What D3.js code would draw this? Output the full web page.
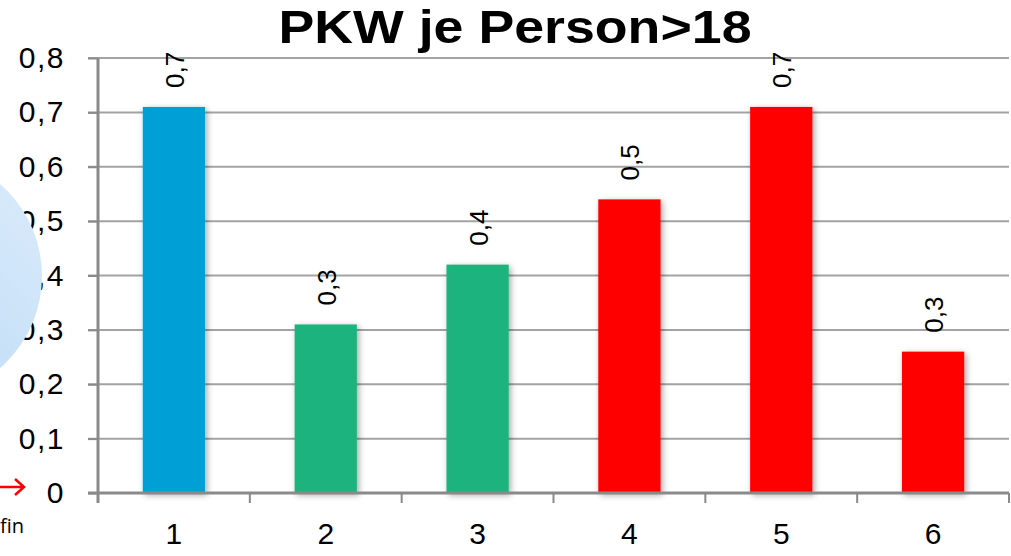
<!DOCTYPE html>
<html>
<head>
<meta charset="utf-8">
<script src="https://cdn.jsdelivr.net/npm/d3@7/dist/d3.min.js"></script>
<style>
body { margin: 0; background: #fff; }
svg { display: block; font-family: "Liberation Sans", Arial, sans-serif; }
</style>
</head>
<body>
<div class="chart"></div>
<script>
// chart data
var categories = ["1", "2", "3", "4", "5", "6"];
var values = [0.71, 0.31, 0.42, 0.54, 0.71, 0.26];
var barColors = ["#009fd6", "#1fb37f", "#1fb37f", "#ff0000", "#ff0000", "#ff0000"];
var yTicks = [0, 0.1, 0.2, 0.3, 0.4, 0.5, 0.6, 0.7, 0.8];
var title = "PKW je Person>18";

var svg_w = 1011;
var svg_h = 556;
var svg = d3.select("div.chart").append("svg")
.attr("width", svg_w)
.attr("height", svg_h);

var plotLeft = 98, plotRight = 1009, plotTop = 58, plotBottom = 493;

var x = d3.scaleBand()
.domain(categories)
.range([plotLeft, plotRight])
.padding(0);

var y = d3.scaleLinear()
.domain([0, 0.8])
.range([plotBottom, plotTop]);

var comma = function(v, digits) {
	return v.toFixed(digits).replace(".", ",");
};

// gradient for the circle on the left and bar shadow
var defs = svg.append("defs");
var grad = defs.append("linearGradient")
.attr("id", "circ")
.attr("x1", "1").attr("y1", "0")
.attr("x2", "0").attr("y2", "1");
grad.append("stop").attr("offset", "0").attr("stop-color", "#dcecfa");
grad.append("stop").attr("offset", "1").attr("stop-color", "#b3d6f6");

var shadow = defs.append("filter")
.attr("id", "shadow")
.attr("x", "-20%").attr("y", "-5%")
.attr("width", "150%").attr("height", "115%");
shadow.append("feDropShadow")
.attr("dx", 2).attr("dy", 2)
.attr("stdDeviation", 3)
.attr("flood-color", "#000")
.attr("flood-opacity", 0.35);

// gridlines
svg.append("g")
.selectAll("line")
.data(yTicks.slice(1))
.enter()
.append("line")
.attr("x1", plotLeft - 10)
.attr("x2", plotRight)
.attr("y1", function(d) { return y(d); })
.attr("y2", function(d) { return y(d); })
.attr("stroke", "#a3a3a3")
.attr("stroke-width", 2);

// y axis
var yAxis = d3.axisLeft(y)
.tickValues(yTicks)
.tickSize(10)
.tickPadding(23)
.tickFormat(function(d) { return d === 0 ? "0" : comma(d, 1); });

var gy = svg.append("g")
.attr("transform", "translate(" + plotLeft + ",0)")
.call(yAxis);
gy.select(".domain").attr("stroke", "#8a8a8a").attr("stroke-width", 3)
.attr("d", "M0," + (plotBottom + 10) + "V" + plotTop);
gy.selectAll(".tick line").attr("stroke", "#8a8a8a").attr("stroke-width", 2);
gy.selectAll(".tick text")
.attr("font-size", 30)
.attr("letter-spacing", 1.5)
.attr("fill", "#000")
.attr("font-family", "Liberation Sans, Arial, sans-serif");

// bars
var barW = x.bandwidth() * 0.41;
svg.append("g")
.selectAll("rect")
.data(values)
.enter()
.append("rect")
.attr("x", function(d, i) { return x(categories[i]) + (x.bandwidth() - barW) / 2; })
.attr("y", function(d) { return y(d); })
.attr("width", barW)
.attr("height", function(d) { return y(0) - y(d); })
.attr("fill", function(d, i) { return barColors[i]; })
.attr("filter", "url(#shadow)");

// x axis
var xAxis = d3.axisBottom(x)
.tickSize(0)
.tickPadding(30);
var gx = svg.append("g")
.attr("transform", "translate(0," + plotBottom + ")")
.call(xAxis);
gx.select(".domain").attr("stroke", "#8a8a8a").attr("stroke-width", 3)
.attr("d", "M" + (plotLeft - 10) + ",0H" + plotRight);
gx.selectAll(".tick text")
.attr("font-size", 30)
.attr("fill", "#000")
.attr("font-family", "Liberation Sans, Arial, sans-serif");

// band boundary ticks
var bounds = categories.map(function(c) { return x(c); }).concat([plotRight]);
gx.selectAll("line.bound")
.data(bounds)
.enter()
.append("line")
.attr("class", "bound")
.attr("x1", function(d) { return d; })
.attr("x2", function(d) { return d; })
.attr("y1", 0)
.attr("y2", 10)
.attr("stroke", "#8a8a8a")
.attr("stroke-width", 2);

// value labels, rotated
svg.append("g")
.selectAll("text")
.data(values)
.enter()
.append("text")
.attr("transform", function(d, i) {
	var cx = x(categories[i]) + x.bandwidth() / 2 + 10;
	return "translate(" + cx + "," + (y(d) - 19) + ") rotate(-90)";
})
.attr("font-size", 26)
.attr("fill", "#000")
.text(function(d) { return comma(d, 1); });

// title
svg.append("text")
.attr("x", 515)
.attr("y", 43)
.attr("text-anchor", "middle")
.attr("font-size", 46)
.attr("font-weight", "bold")
.attr("textLength", 473)
.attr("lengthAdjust", "spacingAndGlyphs")
.text(title);

// decorations from the slide behind the chart
svg.append("circle")
.attr("cx", -80)
.attr("cy", 276)
.attr("r", 122)
.attr("fill", "url(#circ)");

svg.append("path")
.attr("d", "M0,487H23M15,479L24,487L15,495")
.attr("fill", "none")
.attr("stroke", "#ff0000")
.attr("stroke-width", 2.5);

svg.append("text")
.attr("x", 0)
.attr("y", 533)
.attr("font-size", 20)
.attr("fill", "#000")
.attr("font-family", "Open Sans, sans-serif")
.text("fin");
</script>
</body>
</html>
